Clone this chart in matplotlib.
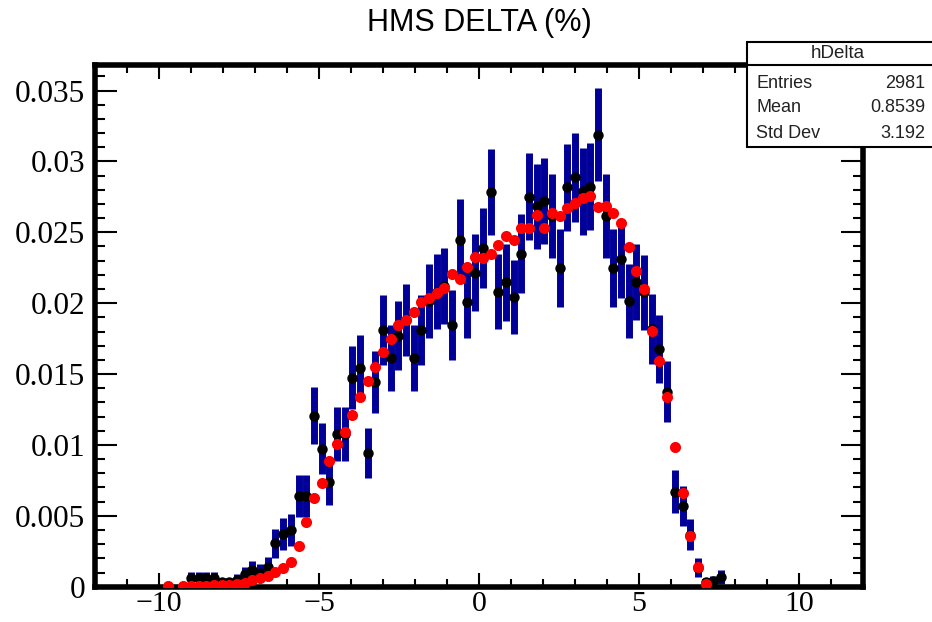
import numpy as np
import matplotlib
matplotlib.use("Agg")
import matplotlib.pyplot as plt
from matplotlib.patches import Rectangle
from matplotlib.ticker import MultipleLocator, FuncFormatter

# histogram binning: 100 bins from -12 to 12 (%)
x_lo, x_hi, n_bins = -12.0, 12.0, 100
n_entries = 2981

# data histogram (normalised), first filled bin is 12
data_first_bin = 12
data_vals = [
    0.00058, 0.00058, 0.00058, 0.00058, 0.0003, 0.0003, 0.0005, 0.00088,   # 12-19
    0.00118, 0.0010, 0.00141, 0.00306, 0.0037, 0.0040, 0.0064, 0.0064,      # 20-27
    0.01207, 0.00974, 0.00737, 0.01075, 0.01078, 0.01475, 0.01545, 0.00941, # 28-35
    0.01442, 0.01811, 0.01612, 0.01771, 0.01882, 0.01612, 0.01811, 0.02017, # 36-43
    0.02082, 0.02122, 0.01847, 0.02447, 0.02011, 0.02214, 0.02387, 0.02783, # 44-51
    0.02082, 0.02146, 0.02046, 0.0235, 0.02752, 0.02684, 0.02722, 0.02616,  # 52-59
    0.02247, 0.02818, 0.02887, 0.02789, 0.02821, 0.03189, 0.02616, 0.02247, # 60-67
    0.02315, 0.02015, 0.0215, 0.02076, 0.01818, 0.01676, 0.01376, 0.00671,  # 68-75
    0.00569, 0.00368, 0.00135, 0.0003, 0.0004, 0.0007,                      # 76-81
]

# simulation histogram (normalised), first filled bin is 9
mc_first_bin = 9
mc_vals = [
    0.00003, np.nan, 0.00004, 0.00005, 0.00006, 0.00008, 0.0001, 0.00013,   # 9-16
    0.00015, 0.00016, 0.00026, 0.00044, 0.00061, 0.00079, 0.00107, 0.00135, # 17-24
    0.00176, 0.00284, 0.00454, 0.00628, 0.00735, 0.00885, 0.0101, 0.01094,  # 25-32
    0.0121, 0.01337, 0.01452, 0.01552, 0.01658, 0.01748, 0.01847, 0.01882,  # 33-40
    0.01935, 0.02006, 0.02035, 0.0207, 0.02106, 0.02204, 0.02169, 0.02254,  # 41-48
    0.02329, 0.02317, 0.02346, 0.02411, 0.02477, 0.02449, 0.02529, 0.02529, # 49-56
    0.02623, 0.02529, 0.02635, 0.02616, 0.0267, 0.02705, 0.02741, 0.02757,  # 57-64
    0.02677, 0.02686, 0.02639, 0.02569, 0.02399, 0.02224, 0.02099, 0.01806, # 65-72
    0.01593, 0.01341, 0.00988, 0.00659, 0.00358, 0.00137, 0.00019,          # 73-79
]

stats_title = "hDelta"
stats_rows = [("Entries", "2981"), ("Mean", "0.8539"), ("Std Dev", "3.192")]

edges = np.linspace(x_lo, x_hi, n_bins + 1)
centers = 0.5 * (edges[:-1] + edges[1:])

data_y = np.array(data_vals)
data_x = centers[data_first_bin:data_first_bin + len(data_y)]
data_err = np.sqrt(data_y / n_entries)

mc_y = np.array(mc_vals)
mc_x = centers[mc_first_bin:mc_first_bin + len(mc_y)]

W, H = 932, 622
fig = plt.figure(figsize=(W / 100, H / 100), dpi=100)
ax = fig.add_axes([95 / W, 1 - 586.7 / H, (863 - 95) / W, (586.7 - 65) / H])

ax.errorbar(data_x, data_y, yerr=data_err, fmt="none", ecolor="#000099",
            elinewidth=5, capsize=0, zorder=2)
ax.plot(data_x, data_y, "o", color="black", ms=7.5, mew=0, zorder=3)
ax.plot(mc_x, mc_y, "o", color="red", ms=8, mew=0, zorder=4)

ax.set_xlim(x_lo, x_hi)
ax.set_ylim(0, 0.0368)

for s in ax.spines.values():
    s.set_linewidth(4)

ax.xaxis.set_major_locator(MultipleLocator(5))
ax.xaxis.set_minor_locator(MultipleLocator(1))
ax.yaxis.set_major_locator(MultipleLocator(0.005))
ax.yaxis.set_minor_locator(MultipleLocator(0.001))
ax.tick_params(axis="both", which="both", direction="in", top=True, right=True,
               width=1.5, colors="black")
ax.tick_params(axis="x", which="major", length=10, pad=3)
ax.tick_params(axis="x", which="minor", length=5.5)
ax.tick_params(axis="y", which="major", length=16, pad=7)
ax.tick_params(axis="y", which="minor", length=7)

ax.xaxis.set_major_formatter(FuncFormatter(lambda v, p: f"{v:g}".replace("-", "\u2212")))
ax.yaxis.set_major_formatter(FuncFormatter(lambda v, p: "0" if abs(v) < 1e-9 else f"{v:.3f}".rstrip("0")))
for lab in ax.get_yticklabels():
    lab.set_fontfamily("Liberation Serif")
    lab.set_fontsize(22.5)
for lab in ax.get_xticklabels():
    lab.set_fontfamily("Liberation Serif")
    lab.set_fontsize(21.5)

fig.text(479 / W, 1 - 23 / H, "HMS DELTA (%)", ha="center", va="center",
         fontsize=22, family="Liberation Sans", color="black")

# statistics box in the top right corner
bx0, by0, by1, bsep = 746.7, 42.3, 146.7, 65
fig.add_artist(Rectangle((bx0 / W, 1 - by1 / H), (W + 10 - bx0) / W, (by1 - by0) / H,
                         transform=fig.transFigure, facecolor="white",
                         edgecolor="black", lw=1.5, zorder=10))
fig.add_artist(plt.Line2D([bx0 / W, 1.01], [1 - bsep / H, 1 - bsep / H],
                          transform=fig.transFigure, color="black", lw=1.5, zorder=11))
fig.text(838 / W, 1 - 54 / H, stats_title, ha="center", va="center",
         fontsize=13.5, family="Liberation Sans", color="#222222", zorder=12)
for (name, val), yy in zip(stats_rows, [83.3, 107.3, 133.3]):
    fig.text(756 / W, 1 - yy / H, name, ha="left", va="center",
             fontsize=13, family="Liberation Sans", color="#222222", zorder=12)
    fig.text(925 / W, 1 - yy / H, val, ha="right", va="center",
             fontsize=13, family="Liberation Sans", color="#222222", zorder=12)

fig.savefig("out.png", dpi=100)
